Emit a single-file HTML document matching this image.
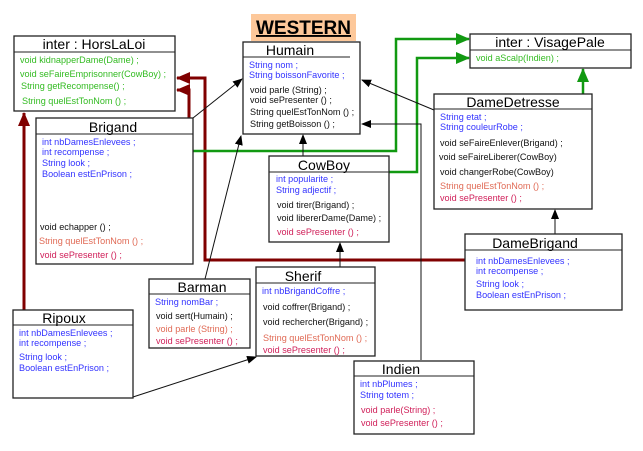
<!DOCTYPE html>
<html><head><meta charset="utf-8"><style>
html,body{margin:0;padding:0;background:#fff}
svg{display:block}
text{font-family:"Liberation Sans",sans-serif;font-size:9.1px}
.t{font-size:14px;fill:#000}
.b{fill:#3333ff}.k{fill:#111}.g{fill:#33bb22}.o{fill:#e06a55}.m{fill:#d0205a}
rect.box{fill:#fff;stroke:#222;stroke-width:1.3}
</style></head><body>
<svg width="643" height="451" viewBox="0 0 643 451" xmlns="http://www.w3.org/2000/svg">
<defs>
<marker id="ak" markerWidth="10" markerHeight="8" refX="9" refY="4" orient="auto" markerUnits="userSpaceOnUse"><path d="M0,0L10,4L0,8z" fill="#000"/></marker>
<marker id="ar" markerWidth="14" markerHeight="12" refX="13" refY="6" orient="auto" markerUnits="userSpaceOnUse"><path d="M0,0L14,6L0,12z" fill="#800000"/></marker>
<marker id="ag" markerWidth="14" markerHeight="12" refX="13" refY="6" orient="auto" markerUnits="userSpaceOnUse"><path d="M0,0L14,6L0,12z" fill="#119911"/></marker>
</defs>

<rect x="251" y="14" width="105" height="27" fill="#fdc89a"/>
<text x="303.5" y="34" text-anchor="middle" style="font-size:19px;font-weight:bold;text-decoration:underline">WESTERN</text>

<g fill="none">
<polyline points="465,260 205,260 205,78 177,78" stroke="#800000" stroke-width="3" marker-end="url(#ar)"/>
<polyline points="189,118 189,90 177,90" stroke="#800000" stroke-width="3" marker-end="url(#ar)"/>
<polyline points="24,310 24,113" stroke="#800000" stroke-width="3" marker-end="url(#ar)"/>
<polyline points="193,151 396,151 396,39 469,39" stroke="#119911" stroke-width="2.5" marker-end="url(#ag)"/>
<polyline points="389,172 417,172 417,58 469,58" stroke="#119911" stroke-width="2.5" marker-end="url(#ag)"/>
<polyline points="583,94 583,69" stroke="#119911" stroke-width="2.5" marker-end="url(#ag)"/>
<g stroke="#111" stroke-width="1">
<line x1="193" y1="118" x2="242" y2="79" marker-end="url(#ak)"/>
<line x1="205" y1="279" x2="241" y2="136" marker-end="url(#ak)"/>
<line x1="434" y1="110" x2="362" y2="80" marker-end="url(#ak)"/>
<polyline points="421,360 421,124 362,124" marker-end="url(#ak)"/>
<line x1="303" y1="156" x2="303" y2="135" marker-end="url(#ak)"/>
<line x1="340" y1="267" x2="340" y2="243" marker-end="url(#ak)"/>
<line x1="555" y1="234" x2="555" y2="210" marker-end="url(#ak)"/>
<polyline points="133,397 256,357" marker-end="url(#ak)"/>
</g>
</g>

<rect class="box" x="14" y="36" width="161" height="75"/>
<line x1="14" y1="52" x2="175" y2="52" stroke="#222"/>
<text class="t" x="94" y="49" text-anchor="middle">inter :  HorsLaLoi</text>
<text class="g" x="20" y="63">void kidnapperDame(Dame) ;</text>
<text class="g" x="20" y="77">void seFaireEmprisonner(CowBoy) ;</text>
<text class="g" x="21" y="89">String getRecompense() ;</text>
<text class="g" x="22" y="104">String quelEstTonNom () ;</text>

<rect class="box" x="243" y="42" width="117" height="92"/>
<line x1="243" y1="57" x2="350" y2="57" stroke="#222"/>
<text class="t" x="290" y="55" text-anchor="middle">Humain</text>
<text class="b" x="249" y="68">String nom ;</text>
<text class="b" x="249" y="78">String boissonFavorite ;</text>
<text class="k" x="250" y="93">void parle (String) ;</text>
<text class="k" x="250" y="103">void sePresenter () ;</text>
<text class="k" x="250" y="115">String quelEstTonNom () ;</text>
<text class="k" x="250" y="127">String getBoisson () ;</text>

<rect class="box" x="36" y="118" width="157" height="146"/>
<line x1="36" y1="134" x2="193" y2="134" stroke="#222"/>
<text class="t" x="113" y="132" text-anchor="middle">Brigand</text>
<text class="b" x="42" y="145">int nbDamesEnlevees ;</text>
<text class="b" x="42" y="155">int recompense ;</text>
<text class="b" x="42" y="166">String look ;</text>
<text class="b" x="42" y="177">Boolean estEnPrison ;</text>
<text class="k" x="40" y="230">void echapper () ;</text>
<text class="o" x="39" y="244">String quelEstTonNom () ;</text>
<text class="m" x="40" y="258">void sePresenter () ;</text>

<rect class="box" x="269" y="156" width="120" height="86"/>
<line x1="269" y1="172" x2="389" y2="172" stroke="#222"/>
<text class="t" x="324" y="170" text-anchor="middle">CowBoy</text>
<text class="b" x="276" y="182">int popularite ;</text>
<text class="b" x="276" y="193">String adjectif ;</text>
<text class="k" x="277" y="208">void tirer(Brigand) ;</text>
<text class="k" x="277" y="221">void libererDame(Dame) ;</text>
<text class="m" x="277" y="235">void sePresenter () ;</text>

<rect class="box" x="470" y="34" width="161" height="34"/>
<line x1="470" y1="50" x2="631" y2="50" stroke="#222"/>
<text class="t" x="550" y="47" text-anchor="middle">inter :  VisagePale</text>
<text class="g" x="476" y="61">void aScalp(Indien) ;</text>

<rect class="box" x="434" y="94" width="158" height="115"/>
<line x1="434" y1="109" x2="592" y2="109" stroke="#222"/>
<text class="t" x="513" y="107" text-anchor="middle">DameDetresse</text>
<text class="b" x="440" y="120">String etat ;</text>
<text class="b" x="440" y="130">String couleurRobe ;</text>
<text class="k" x="440" y="146">void seFaireEnlever(Brigand) ;</text>
<text class="k" x="439" y="160">void seFaireLiberer(CowBoy)</text>
<text class="k" x="440" y="175">void changerRobe(CowBoy)</text>
<text class="o" x="440" y="189">String quelEstTonNom () ;</text>
<text class="m" x="440" y="201">void sePresenter () ;</text>

<rect class="box" x="465" y="234" width="157" height="76"/>
<line x1="465" y1="250" x2="622" y2="250" stroke="#222"/>
<text class="t" x="535" y="248" text-anchor="middle">DameBrigand</text>
<text class="b" x="476" y="264">int nbDamesEnlevees ;</text>
<text class="b" x="476" y="274">int recompense ;</text>
<text class="b" x="476" y="287">String look ;</text>
<text class="b" x="476" y="298">Boolean estEnPrison ;</text>

<rect class="box" x="149" y="279" width="101" height="69"/>
<line x1="149" y1="294" x2="250" y2="294" stroke="#222"/>
<text class="t" x="202" y="292" text-anchor="middle">Barman</text>
<text class="b" x="155" y="305">String nomBar ;</text>
<text class="k" x="156" y="319">void sert(Humain) ;</text>
<text class="o" x="156" y="332">void parle (String) ;</text>
<text class="m" x="156" y="344">void sePresenter () ;</text>

<rect class="box" x="256" y="267" width="119" height="89"/>
<line x1="256" y1="283" x2="375" y2="283" stroke="#222"/>
<text class="t" x="303" y="281" text-anchor="middle">Sherif</text>
<text class="b" x="262" y="294">int nbBrigandCoffre ;</text>
<text class="k" x="263" y="310">void coffrer(Brigand) ;</text>
<text class="k" x="263" y="325">void rechercher(Brigand) ;</text>
<text class="o" x="263" y="341">String quelEstTonNom () ;</text>
<text class="m" x="263" y="353">void sePresenter () ;</text>

<rect class="box" x="13" y="310" width="120" height="88"/>
<line x1="13" y1="325" x2="133" y2="325" stroke="#222"/>
<text class="t" x="64" y="323" text-anchor="middle">Ripoux</text>
<text class="b" x="19" y="336">int nbDamesEnlevees ;</text>
<text class="b" x="19" y="346">int recompense ;</text>
<text class="b" x="19" y="360">String look ;</text>
<text class="b" x="19" y="371">Boolean estEnPrison ;</text>

<rect class="box" x="354" y="361" width="120" height="73"/>
<line x1="354" y1="376" x2="474" y2="376" stroke="#222"/>
<text class="t" x="401" y="374" text-anchor="middle">Indien</text>
<text class="b" x="360" y="387">int nbPlumes ;</text>
<text class="b" x="360" y="398">String totem ;</text>
<text class="m" x="361" y="413">void parle(String) ;</text>
<text class="m" x="361" y="426">void sePresenter () ;</text>
</svg>
</body></html>
